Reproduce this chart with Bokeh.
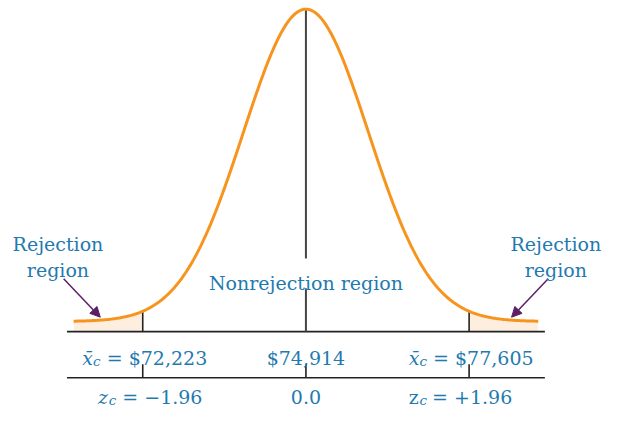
import numpy as np
from bokeh.plotting import figure
from bokeh.models import Range1d, Label, Arrow, NormalHead
from bokeh.embed import file_html
from bokeh.resources import INLINE

# ---- data ----
x_mean = 74914
x_critical = [72223, 77605]
z_critical = [-1.96, 1.96]
z_mean = 0.0
mean_label = "$74,914"
z_mean_label = "0.0"
xbar_labels = ["= $72,223", "= $77,605"]
z_labels = ["= \u22121.96", "= +1.96"]
region_labels = ["Nonrejection region", "Rejection", "region"]
curve_spread = 0.75          # drawn width of the bell (z units)
curve_extent = 2.79          # curve drawn from -extent to +extent
axis_extent = 2.87

# ---- layout helpers (design pixels -> data units) ----
DW, DH = 621, 427            # design canvas
W, H = 605, 411              # figure size (fits window with 8px margin)
SX = W / DW
PX_PER_Z = 85.46
Z0_PAGE = 313.5
BASE_PAGE = 333.5
PX_PER_UNIT = 324.5
def zx(px):
    return (px - Z0_PAGE) / PX_PER_Z
def yy(py):
    return (BASE_PAGE - py) / PX_PER_UNIT

p = figure(width=W, height=H, output_backend="svg", toolbar_location=None,
           x_range=Range1d(zx(0), zx(DW)), y_range=Range1d(yy(DH), yy(0)),
           x_axis_type=None, y_axis_type=None, min_border=0)
p.grid.visible = False
p.outline_line_color = None
p.background_fill_color = "white"
p.border_fill_color = "white"

ORANGE = "#F7941D"
BLUE = "#1F7AAF"
PURPLE = "#5C1F66"
SHADE = "#FDEEDF"
FONT = "DejaVu Serif"
FS = "19px"
FS_SUB = "13.5px"

def bell(z):
    return np.exp(-0.5 * (np.asarray(z) / curve_spread) ** 2)

axis_y = yy(344)
axis2_y = yy(392)

# shaded rejection regions
zl = np.linspace(-curve_extent, z_critical[0], 80)
zr = np.linspace(z_critical[1], curve_extent, 80)
p.varea(x=zl, y1=axis_y, y2=bell(zl), fill_color=SHADE)
p.varea(x=zr, y1=axis_y, y2=bell(zr), fill_color=SHADE)

# axis lines
p.segment(x0=[-axis_extent, -axis_extent], y0=[axis_y, axis2_y],
          x1=[axis_extent, axis_extent], y1=[axis_y, axis2_y],
          line_color="#222222", line_width=1.6)

# critical value verticals up to the curve
p.segment(x0=z_critical, y0=[axis_y] * 2, x1=z_critical, y1=list(bell(z_critical)),
          line_color="#222222", line_width=1.6)

# centre line (broken around the label)
p.segment(x0=[z_mean, z_mean], y0=[axis_y, yy(268)], x1=[z_mean, z_mean], y1=[yy(299), float(bell(z_mean))],
          line_color="#444444", line_width=2)

# lower ticks
tz = z_critical + [z_mean]
p.segment(x0=tz, y0=[axis2_y] * 3, x1=tz, y1=[yy(378)] * 3, line_color="#222222", line_width=1.6)

# curve
zc = np.linspace(-curve_extent, curve_extent, 400)
p.line(zc, bell(zc), line_color=ORANGE, line_width=3)

# arrows
for s in (-1, 1):
    p.add_layout(Arrow(end=NormalHead(size=10, fill_color=PURPLE, line_color=PURPLE),
                       x_start=s * 2.91, y_start=yy(289), x_end=s * 2.47, y_end=yy(329),
                       line_color=PURPLE, line_width=1.5))

def lab(x, py, text, align="center", xo=0, size=FS, style="normal"):
    p.add_layout(Label(x=x, y=yy(py), text=text, text_font=FONT, text_font_size=size,
                       text_color=BLUE, text_align=align, text_baseline="alphabetic",
                       x_offset=xo * SX, text_font_style=style))

# region labels
lab(z_mean, 293, region_labels[0])
lab(zx(59), 253, region_labels[1])
lab(zx(59), 280, region_labels[2])
lab(zx(570), 253, region_labels[1])
lab(zx(570), 280, region_labels[2])

# row 1: sample mean values
lab(z_mean, 371, mean_label)
for zcv, txt in zip(z_critical, xbar_labels):
    lab(zcv, 371, "x\u0304", align="left", xo=-62, style="italic")
    lab(zcv, 375, "c", align="left", xo=-51, size=FS_SUB, style="italic")
    lab(zcv, 371, txt, align="left", xo=-37)

# row 2: z values
lab(z_mean, 412, z_mean_label)
for zcv, txt, st in zip(z_critical, z_labels, ["italic", "normal"]):
    lab(zcv, 412, "z", align="left", xo=-62 if zcv > 0 else -46, style=st)
    lab(zcv, 415, "c", align="left", xo=-51 if zcv > 0 else -35, size=FS_SUB, style="italic")
    lab(zcv, 412, txt, align="left", xo=-38 if zcv > 0 else -21)

open("out.html", "w").write(file_html(p, INLINE))
